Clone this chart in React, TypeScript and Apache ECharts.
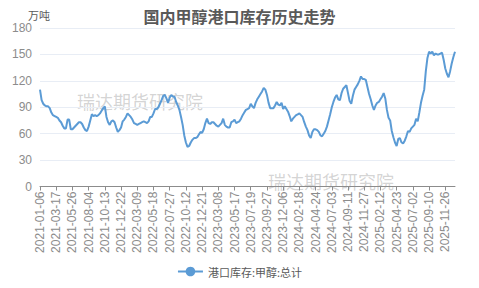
import React, { useEffect, useRef } from "react";
import * as echarts from "echarts";

const titleText = "国内甲醇港口库存历史走势";
const seriesName = "港口库存:甲醇:总计";
const yAxisName = "万吨";
const watermark = "瑞达期货研究院";

// weekly (Wednesday) report dates, with holiday weeks missing and make-up days added
const firstDate = "2021-01-06";
const lastDate = "2026-01-07";
const skippedDates = ["2022-02-02", "2022-10-05", "2023-01-25", "2024-02-14", "2024-10-02", "2025-01-29", "2025-10-01"];
const extraDates = ["2023-06-25", "2024-02-18"];

const inventory = [
  110, 98, 94, 92, 91, 91, 89, 84, 81, 80,
  79, 78, 75, 73, 69, 66, 66, 76, 76, 65,
  65, 67, 69, 71, 73, 73, 71, 67, 64, 63,
  68, 75, 82, 80, 81, 80, 81, 83, 86, 89,
  91, 79, 73, 70, 74, 75, 73, 67, 62, 64,
  67, 74, 76, 79, 83, 81, 79, 76, 72, 71,
  70, 71, 72, 73, 74, 73, 72, 74, 79, 79,
  83, 88, 88, 90, 94, 98, 103, 104, 100, 95,
  101, 104, 102, 102, 96, 92, 87, 79, 70, 58,
  50, 45, 46, 50, 53, 55, 55, 56, 59, 62,
  61, 65, 72, 77, 72, 71, 73, 73, 71, 69,
  68, 70, 72, 77, 70, 68, 67, 67, 73, 74,
  76, 72, 73, 74, 77, 81, 84, 87, 88, 89,
  94, 91, 89, 95, 99, 102, 105, 108, 112, 110,
  104, 95, 89, 89, 89, 92, 96, 93, 92, 95,
  88, 91, 88, 85, 80, 74, 77, 79, 81, 82,
  83, 81, 79, 73, 68, 64, 58, 55, 62, 65,
  65, 64, 62, 58, 57, 60, 63, 68, 75, 82,
  90, 96, 101, 104, 99, 98, 106, 111, 113, 115,
  106, 97, 94, 103, 110, 113, 116, 120, 125, 122,
  122, 121, 113, 105, 99, 92, 87, 92, 95, 96,
  99, 102, 106, 100, 87, 78, 75, 63, 56, 50,
  46, 54, 55, 50, 49, 52, 57, 63, 62, 66,
  68, 70, 77, 74, 84, 95, 103, 110, 131, 146,
  153, 151, 153, 149, 151, 150, 150, 151, 152, 144,
  134, 128, 124, 131, 140, 147, 153,
];

const yTicks = { min: 0, max: 180, interval: 30 };

function fmt(d: Date): string {
  const y = d.getUTCFullYear();
  const m = String(d.getUTCMonth() + 1).padStart(2, "0");
  const dd = String(d.getUTCDate()).padStart(2, "0");
  return `${y}-${m}-${dd}`;
}

function buildDates(): string[] {
  const out: string[] = [];
  const cur = new Date(firstDate + "T00:00:00Z");
  const end = new Date(lastDate + "T00:00:00Z");
  while (cur.getTime() <= end.getTime()) {
    const s = fmt(cur);
    if (!skippedDates.includes(s)) out.push(s);
    cur.setUTCDate(cur.getUTCDate() + 7);
  }
  for (const e of extraDates) out.push(e);
  out.sort();
  return out;
}

export default function App() {
  const ref = useRef<HTMLDivElement>(null);
  useEffect(() => {
    document.body.style.margin = "0";
    const chart = echarts.init(ref.current!, null, { renderer: "svg" });
    const dates = buildDates();
    chart.setOption({
      animation: false,
      backgroundColor: "#ffffff",
      title: {
        text: titleText,
        left: "center",
        top: 3,
        textStyle: { fontSize: 16, fontWeight: "bold", color: "#595959", fontFamily: "Noto Sans CJK SC" },
      },
      grid: { left: 40, right: 24, top: 28, bottom: 101.5, containLabel: false },
      legend: {
        bottom: 6,
        left: "center",
        itemWidth: 25,
        itemHeight: 12,
        textStyle: { fontSize: 11, color: "#595959", fontFamily: "Noto Sans CJK SC" },
        data: [seriesName],
      },
      xAxis: {
        type: "category",
        data: dates,
        boundaryGap: false,
        axisLine: { lineStyle: { color: "#8c8c8c" } },
        axisTick: { show: true, interval: 9, length: 4, lineStyle: { color: "#8c8c8c" } },
        axisLabel: {
          interval: 9,
          rotate: 90,
          fontSize: 12,
          color: "#8c8c8c",
          margin: 5,
          fontFamily: "Liberation Sans",
        },
      },
      yAxis: {
        type: "value",
        min: yTicks.min,
        max: yTicks.max,
        interval: yTicks.interval,
        name: yAxisName,
        nameGap: 8,
        nameTextStyle: { color: "#595959", fontSize: 11, align: "right", padding: [0, -10, 0, 0], fontFamily: "Noto Sans CJK SC" },
        axisLine: { show: false },
        axisTick: { show: false },
        axisLabel: { fontSize: 12, color: "#8c8c8c", margin: 8, fontFamily: "Liberation Sans" },
        splitLine: { lineStyle: { color: "#e8edf5" } },
      },
      graphic: [
        {
          type: "text",
          left: 77,
          top: 92,
          z: 0,
          style: { text: watermark, fontSize: 18, fill: "rgba(160,160,160,0.45)", fontFamily: "Noto Sans CJK SC" },
        },
        {
          type: "text",
          left: 268,
          top: 172,
          z: 0,
          style: { text: watermark, fontSize: 18, fill: "rgba(160,160,160,0.45)", fontFamily: "Noto Sans CJK SC" },
        },
      ],
      series: [
        {
          name: seriesName,
          type: "line",
          data: inventory,
          symbol: "circle",
          showSymbol: false,
          symbolSize: 8,
          lineStyle: { width: 2, color: "#5b9bd5" },
          itemStyle: { color: "#5b9bd5" },
          z: 3,
        },
      ],
    });
    return () => chart.dispose();
  }, []);
  return <div ref={ref} style={{ position: "fixed", left: 0, top: 0, width: 479, height: 288 }} />;
}
